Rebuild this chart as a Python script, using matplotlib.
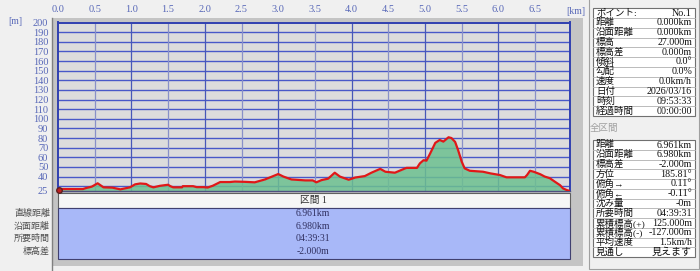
import matplotlib.pyplot as plt
from matplotlib.patches import Rectangle

# elevation profile (km, m)
dist_km = [0.00, 0.34, 0.38, 0.46, 0.54, 0.62, 0.74, 0.85, 0.98, 1.05, 1.12, 1.20,
           1.25, 1.30, 1.39, 1.50, 1.53, 1.57, 1.69, 1.70, 1.84, 1.89, 1.98, 2.04,
           2.11, 2.21, 2.34, 2.41, 2.55, 2.68, 2.82, 3.00, 3.07, 3.18, 3.37, 3.47,
           3.52, 3.59, 3.68, 3.77, 3.84, 3.96, 4.05, 4.18, 4.27, 4.39, 4.46, 4.59,
           4.73, 4.75, 4.89, 4.93, 4.98, 5.02, 5.07, 5.14, 5.20, 5.25, 5.32, 5.36,
           5.41, 5.45, 5.50, 5.54, 5.61, 5.70, 5.79, 5.89, 6.02, 6.11, 6.36, 6.39,
           6.43, 6.48, 6.57, 6.63, 6.70, 6.77, 6.84, 6.88, 6.93, 6.975]
elev_m = [27.0, 27.0, 28.0, 29.5, 33.0, 28.8, 28.5, 26.7, 28.8, 31.9, 32.8, 32.3,
          30.0, 28.8, 30.4, 31.5, 30.0, 28.8, 28.8, 30.0, 30.0, 29.0, 29.0, 28.6,
          30.5, 34.3, 34.3, 34.8, 34.5, 34.0, 37.0, 42.6, 40.0, 37.0, 36.0, 36.0,
          34.0, 36.3, 37.8, 44.0, 40.0, 36.7, 39.0, 40.5, 44.0, 48.0, 45.0, 44.0,
          48.5, 49.0, 49.0, 53.7, 57.0, 56.5, 64.0, 75.0, 78.0, 76.3, 80.8, 80.0,
          76.0, 67.6, 55.4, 48.5, 46.0, 45.5, 45.0, 43.3, 41.6, 39.2, 39.2, 41.6,
          46.0, 45.0, 42.4, 40.0, 38.3, 34.6, 31.0, 27.7, 26.0, 25.0]

x_ticks = [0.0, 0.5, 1.0, 1.5, 2.0, 2.5, 3.0, 3.5, 4.0, 4.5, 5.0, 5.5, 6.0, 6.5]
y_ticks = [25, 40, 50, 60, 70, 80, 90, 100, 110, 120, 130, 140, 150, 160, 170, 180, 190, 200]
y_grid = list(range(30, 201, 10))

section_title = "区間 1"
summary_labels = ["直線距離", "沿面距離", "所要時間", "標高差"]
summary_values = ["6.961km", "6.980km", "04:39:31", "-2.000m"]

point_labels = ["ポイント:", "距離", "沿面距離", "標高", "標高差", "傾斜", "勾配",
                "速度", "日付", "時刻", "経過時間"]
point_values = ["No.1", "0.000km", "0.000km", "27.000m", "0.000m", "0.0°", "0.0%",
                "0.0km/h", "2026/03/16", "09:53:33", "00:00:00"]

total_labels = ["距離", "沿面距離", "標高差", "方位", "俯角→", "俯角←", "沈み量",
                "所要時間", "累積標高(+)", "累積標高(-)", "平均速度", "見通し"]
total_values = ["6.961km", "6.980km", "-2.000m", "185.81°", "0.11°", "-0.11°", "-0m",
                "04:39:31", "125.000m", "-127.000m", "1.5km/h", "見えます"]

fonts = ["Liberation Serif", "Noto Sans CJK JP", "DejaVu Sans"]
plt.rcParams["font.family"] = fonts

W, H = 700, 271
fig = plt.figure(figsize=(W / 100, H / 100), dpi=100)
fig.patch.set_facecolor("#f0f0f0")

# background layer in pixel coordinates
bg = fig.add_axes([0, 0, 1, 1], zorder=0)
bg.set_xlim(0, W)
bg.set_ylim(H, 0)
bg.axis("off")

bg.add_patch(Rectangle((52, 18), 531, 248, fc="#c4c4c4", ec="none"))
bg.plot([52, 52], [18, 271], color="#808080", lw=1)
bg.add_patch(Rectangle((58, 193), 512, 15, fc="#f6f6f6", ec="#606060", lw=0.8))
bg.add_patch(Rectangle((58, 208), 512, 51, fc="#a8b8f8", ec="#404070", lw=0.8))

bg.text(313, 200.5, section_title, ha="center", va="center", fontsize=7, color="#303030")
for i, (lab, val) in enumerate(zip(summary_labels, summary_values)):
    yy = 213.5 + i * 12.6
    bg.text(50, yy, lab, ha="right", va="center", fontsize=6.5, color="#505050")
    bg.text(313, yy, val, ha="center", va="center", fontsize=7, color="#303060")

# right info panel
bg.add_patch(Rectangle((589, -2), 110, 271, fc="#f0f0f0", ec="#a0a0a0", lw=0.8))

bg.text(8, 22, "[m]", ha="left", va="center", fontsize=7, color="#5868b8")
bg.text(576, 11, "[km]", ha="center", va="center", fontsize=7, color="#5868b8", zorder=5)


def draw_table(labels, values, y0, step):
    top = y0 - step / 2
    bg.add_patch(Rectangle((593, top), 102, step * len(labels), fc="white",
                           ec="#707070", lw=0.8))
    for i, (lab, val) in enumerate(zip(labels, values)):
        yy = y0 + i * step
        if i > 0:
            bg.plot([593, 695], [yy - step / 2] * 2, color="#b0b0b0", lw=0.6)
        bg.text(596, yy, lab, ha="left", va="center", fontsize=6.8, color="#101010")
        bg.text(692, yy, val, ha="right", va="center", fontsize=7.2, color="#101010")


draw_table(point_labels, point_values, 13, 9.8)
bg.text(590, 128, "全区間", ha="left", va="center", fontsize=6.8, color="#a0a0a0")
draw_table(total_labels, total_values, 145, 9.75)

# profile chart
ax = fig.add_axes([58 / W, 1 - 191 / H, (570 - 58) / W, (191 - 22.5) / H], zorder=2)
ax.set_facecolor("#dcdcdc")
ax.set_xlim(0, 6.975)
ax.set_ylim(25, 200)

for g in y_grid:
    ax.axhline(g, color="#4858c8", lw=1, zorder=1)
for t in x_ticks[1:]:
    major = float(t).is_integer()
    ax.axvline(t, color="#4858b8" if major else "#8890c8", lw=0.9, zorder=1)

ax.fill_between(dist_km, elev_m, 25, color="#6cc090", alpha=0.85, lw=0, zorder=2)
ax.plot(dist_km, elev_m, color="#e01818", lw=1.6, zorder=3)
ax.plot([0.01], [26.5], marker="o", ms=4, color="#c02020", mec="#602020",
        clip_on=False, zorder=4)

ax.xaxis.tick_top()
ax.set_xticks(x_ticks)
ax.set_xticklabels([f"{t:.1f}" for t in x_ticks])
ax.set_yticks(y_ticks)
ax.set_yticklabels([str(t) for t in y_ticks])
ax.tick_params(axis="x", length=0, pad=6, labelsize=7.5, colors="#5868b8")
ax.tick_params(axis="y", length=0, pad=7, labelsize=7.5, colors="#5868b8")
for side in ["left", "top", "right"]:
    ax.spines[side].set_color("#3040b0")
    ax.spines[side].set_linewidth(1.4)
ax.spines["bottom"].set_color("#505080")
ax.spines["bottom"].set_linewidth(1)

fig.savefig("out.png", dpi=100, facecolor=fig.get_facecolor())
